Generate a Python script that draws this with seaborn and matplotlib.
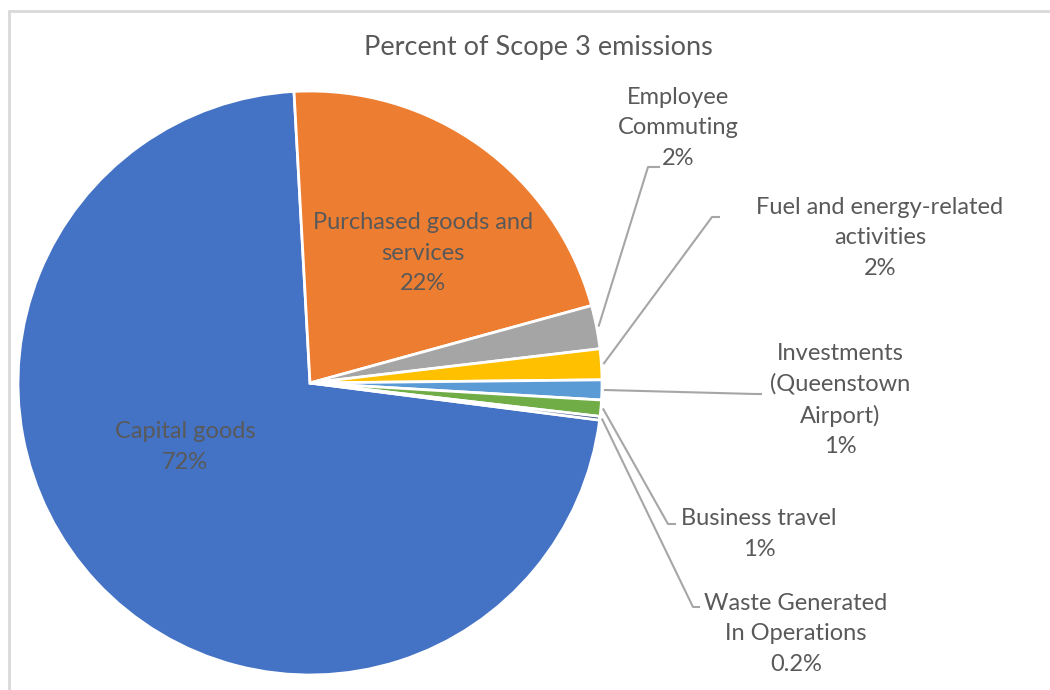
import numpy as np
import matplotlib
matplotlib.use("Agg")
import matplotlib.pyplot as plt
from matplotlib.lines import Line2D
import seaborn as sns

# ---- data -------------------------------------------------------------
categories = [
    "Capital goods",
    "Purchased goods and\nservices",
    "Employee\nCommuting",
    "Fuel and energy-related\nactivities",
    "Investments\n(Queenstown\nAirport)",
    "Business travel",
    "Waste Generated\nIn Operations",
]
shares = [72.1, 21.6, 2.4, 1.7, 1.1, 0.9, 0.2]
colors = ["#4472C4", "#ED7D31", "#A5A5A5", "#FFC000", "#5B9BD5", "#70AD47", "#264478"]
title = "Percent of Scope 3 emissions"


def pct_label(v):
    return f"{v:.1f}%" if v < 0.5 else f"{v:.0f}%"


# ---- style ------------------------------------------------------------
sns.set_theme(style="white")
plt.rcParams["font.family"] = ["Lato", "DejaVu Sans"]
text_color = "#595959"
leader_color = "#A6A6A6"
palette = sns.color_palette(colors)

W, H = 1050, 690
fig = plt.figure(figsize=(W / 100, H / 100), dpi=100)
ax = fig.add_axes([0, 0, 1, 1])

# pie laid out in a pixel-like data space (y measured from the bottom)
center = (310, H - 383)
radius = 292
wedges, _ = ax.pie(
    shares,
    colors=palette,
    startangle=-7.3,
    counterclock=False,
    center=center,
    radius=radius,
    wedgeprops=dict(edgecolor="white", linewidth=2),
)
ax.set_xlim(0, W)
ax.set_ylim(0, H)
ax.set_aspect("equal")
ax.axis("off")

fs = 17
ls = 1.55


def label_text(i):
    return f"{categories[i]}\n{pct_label(shares[i])}"


# labels inside the two large slices
inside_pos = {0: (185, 447), 1: (423, 253)}
for i, (x, y) in inside_pos.items():
    ax.text(x, H - y, label_text(i), ha="center", va="center",
            fontsize=fs, color=text_color, linespacing=ls)

# labels outside with leader lines: (text centre, elbow, line end)
outside = {
    2: ((678, 128), (648, 167), (660, 167)),
    3: ((880, 238), (712, 217), (720, 217)),
    4: ((840, 400), (755, 394), (762, 394)),
    5: ((759, 534), (668, 524), (676, 524)),
    6: ((796, 634), (693, 607), (700, 607)),
}
for i, (tpos, elbow, end) in outside.items():
    w = wedges[i]
    mid = np.deg2rad((w.theta1 + w.theta2) / 2)
    sx = center[0] + (radius + 2) * np.cos(mid)
    sy = center[1] + (radius + 2) * np.sin(mid)
    ax.plot([sx, elbow[0], end[0]], [sy, H - elbow[1], H - end[1]],
            color=leader_color, lw=1.5, solid_capstyle="butt")
    ax.text(tpos[0], H - tpos[1], label_text(i), ha="center", va="center",
            fontsize=fs, color=text_color, linespacing=ls)

ax.text(538, H - 47, title, ha="center", va="center",
        fontsize=19.5, color=text_color)

# chart-area border (top and left edges)
border = "#D9D9D9"
fig.add_artist(Line2D([8.5 / W, 1], [(H - 10.5) / H] * 2, color=border, lw=2,
                      transform=fig.transFigure))
fig.add_artist(Line2D([8.5 / W] * 2, [0, (H - 10.5) / H], color=border, lw=2,
                      transform=fig.transFigure))

fig.savefig("out.png", dpi=100, facecolor="white")
